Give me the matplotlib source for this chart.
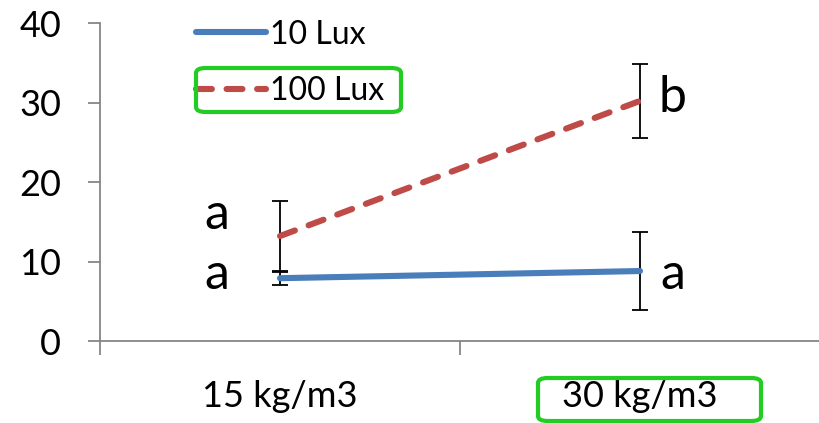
import matplotlib
matplotlib.use("Agg")
import matplotlib.pyplot as plt
from matplotlib.patches import FancyBboxPatch

plt.rcParams['font.family'] = ['Lato', 'DejaVu Sans']

# densities on the x axis
densities = ["15 kg/m3", "30 kg/m3"]
series_names = ["10 Lux", "100 Lux"]
lux10_mean = [7.9, 8.8]
lux10_err = [0.8, 4.9]
lux100_mean = [13.2, 30.2]
lux100_err = [4.4, 4.7]
# significance letters: (x, y, letter)
letters = [(0.325, 15.8, "a"), (0.325, 8.3, "a"), (1.59, 30.6, "b"), (1.59, 8.3, "a")]

fig = plt.figure(figsize=(8.19, 4.23), dpi=100)
ax = fig.add_axes([100 / 819, 1 - 341 / 423, 720 / 819, 318 / 423])

xs = [i + 0.5 for i in range(len(densities))]

ax.errorbar(xs, lux10_mean, yerr=lux10_err, fmt='none', ecolor='black',
            elinewidth=1.3, capsize=5.5, capthick=1.3, zorder=2)
ax.errorbar(xs, lux100_mean, yerr=lux100_err, fmt='none', ecolor='black',
            elinewidth=1.3, capsize=5.5, capthick=1.3, zorder=2)

ax.plot(xs, lux10_mean, color='#4a7ebb', linewidth=4.4,
        solid_capstyle='round', label=series_names[0], zorder=3)
ax.plot(xs, lux100_mean, color='#be4b48', linewidth=4.4,
        dashes=(2.6, 2.4), dash_capstyle='round', label=series_names[1], zorder=3)

for x, y, txt in letters:
    ax.text(x, y, txt, fontsize=36, ha='center', va='center')

ax.set_xlim(0, 2)
ax.set_ylim(0, 40)
ax.set_yticks([0, 10, 20, 30, 40])
ax.set_xticks([0, 1, 2])
ax.set_xticklabels([])
ax.set_xticks(xs, minor=True)
ax.set_xticklabels(densities, minor=True)
ax.tick_params(axis='x', which='minor', length=0, pad=28, labelsize=26)
ax.tick_params(axis='x', which='major', length=10, width=1.3, color='#868686', direction='out')
ax.tick_params(axis='y', length=9, width=1.3, color='#868686', labelsize=26, pad=19)

for side in ['top', 'right']:
    ax.spines[side].set_visible(False)
for side in ['left', 'bottom']:
    ax.spines[side].set_color('#868686')
    ax.spines[side].set_linewidth(1.3)

leg = ax.legend(loc='upper left', bbox_to_anchor=(96 / 720, 1.011), frameon=False,
                fontsize=23, handlelength=2.2, handletextpad=0.12, labelspacing=0.82,
                borderaxespad=0, borderpad=0)

# green highlight boxes
for (x0, y0, w, h) in [(196, 68, 205, 44), (538, 378, 223, 43)]:
    box = FancyBboxPatch((x0 / 819, 1 - (y0 + h) / 423), w / 819, h / 423,
                         boxstyle="round,pad=0,rounding_size=0.012",
                         transform=fig.transFigure, fill=False,
                         edgecolor='#22cc22', linewidth=3, zorder=10)
    fig.patches.append(box)

fig.savefig("out.png", dpi=100)
